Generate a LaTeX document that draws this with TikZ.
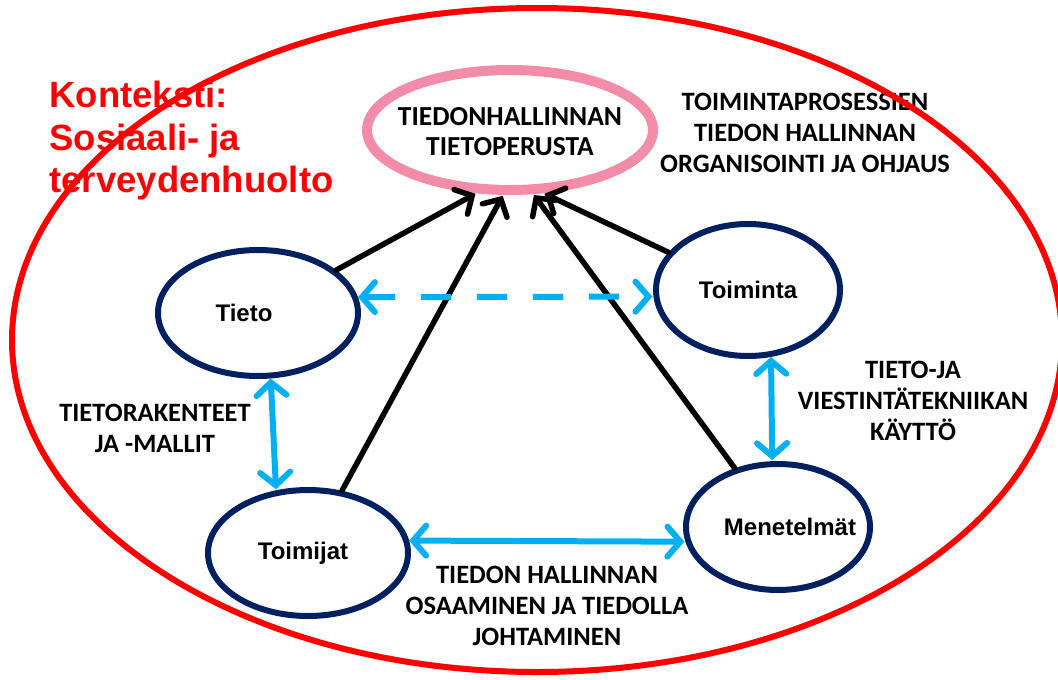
\documentclass[tikz,border=0pt]{standalone}
\usepackage{fontspec}
\usetikzlibrary{shapes.geometric,arrows.meta}
\newfontfamily\calibri{Carlito}
\newfontfamily\arial{Liberation Sans}
\definecolor{navy}{RGB}{0,32,96}
\definecolor{skyblue}{RGB}{0,176,240}
\definecolor{rosepink}{RGB}{242,140,168}
\begin{document}
\begin{tikzpicture}[x=1pt, y=-1pt, shorten >=1pt,
  main node/.style={ellipse,draw=navy,line width=6pt,inner sep=0pt},
  name text/.style={font=\arial\bfseries\fontsize{24}{28}\selectfont},
  base node/.style={ellipse,draw=rosepink,line width=10pt,inner sep=0pt},
  base text/.style={align=center,font=\calibri\bfseries\fontsize{27.5}{30}\selectfont},
  label node/.style={align=center,font=\calibri\bfseries\fontsize{26.5}{31}\selectfont},
  feed/.style={draw=black,line width=5.5pt,-{Straight Barb[length=13pt,width=28pt,line cap=round]},line cap=round},
  link/.style={draw=skyblue,line width=6pt,{Straight Barb[length=13pt,width=30pt,line cap=round]}-{Straight Barb[length=13pt,width=30pt,line cap=round]}}]%
\useasboundingbox (0,0) rectangle (1058,680);
\clip (0,0) rectangle (1058,680);
\begin{scope}%
\node[base node,minimum width=286pt,minimum height=120pt,label={[base text,yshift=-2pt]center:TIEDONHALLINNAN\\TIETOPERUSTA}] (base) at (510,130) {};
\node[main node,minimum width=200pt,minimum height=126pt,label={[name text,xshift=-14pt]center:Tieto}] (tieto) at (258,313) {};
\node[main node,minimum width=184pt,minimum height=132pt,label={[name text]center:Toiminta}] (toiminta) at (748,290) {};
\node[main node,minimum width=200pt,minimum height=126pt,label={[name text,xshift=-5pt]center:Toimijat}] (toimijat) at (308,553) {};
\node[main node,minimum width=184pt,minimum height=126pt,label={[name text,xshift=12pt]center:Menetelmät}] (menetelmat) at (778,527) {};
\node[label node] (ohjaus) at (805,133) {TOIMINTAPROSESSIEN\\TIEDON HALLINNAN\\ORGANISOINTI JA OHJAUS};
\node[label node] (mallit) at (155,428) {TIETORAKENTEET\\JA -MALLIT};
\node[label node] (kaytto) at (913,401) {TIETO-JA\\VIESTINTÄTEKNIIKAN\\KÄYTTÖ};
\node[label node] (osaaminen) at (547,606) {TIEDON HALLINNAN\\OSAAMINEN JA TIEDOLLA\\JOHTAMINEN};
\node[align=left,text=red,anchor=north west,font=\arial\bfseries\fontsize{36.5}{42.5}\selectfont] (konteksti) at (46,78) {Konteksti:\\Sosiaali- ja\\terveydenhuolto};
\end{scope}
\begin{scope}[every edge/.style={feed}]
\draw (tieto) edge (base.242);
\draw (toimijat) edge (base.264);
\draw (menetelmat) edge (base.290);
\draw (toiminta) edge (base.298);
\end{scope}
\begin{scope}[every edge/.style={link}]
\draw (tieto.9) edge[dash pattern=on 30pt off 26pt] (toiminta.184);
\draw (tieto.281) edge (toimijat.117);
\draw (toiminta.289) edge (menetelmat.95);
\draw (toimijat.7) edge (menetelmat.189);
\end{scope}
\draw[red,line width=6pt] (537,340) ellipse [x radius=525, y radius=332];
\end{tikzpicture}
\end{document}
